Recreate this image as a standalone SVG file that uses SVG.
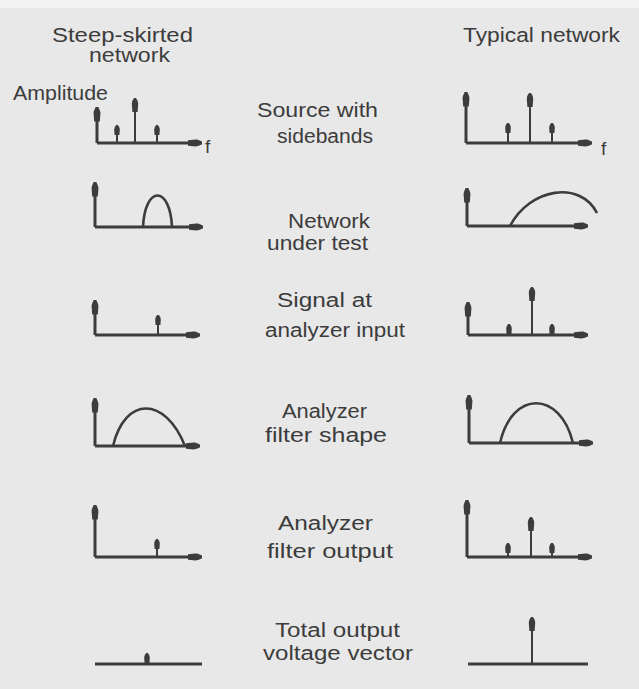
<svg xmlns="http://www.w3.org/2000/svg" width="639" height="689" viewBox="0 0 639 689">
<style>
.t{font-family:"Liberation Sans",Arial,sans-serif;font-size:20px;fill:#3c3c3c;}
.f{font-family:"Liberation Sans",Arial,sans-serif;font-size:19px;fill:#3c3c3c;}
.ax{stroke:#3c3c3c;stroke-width:3;fill:none;marker-end:url(#ah);}
.bl{stroke:#3c3c3c;stroke-width:3;fill:none;}
.sp{stroke:#3c3c3c;stroke-width:2;fill:none;marker-end:url(#sh);}
.tsp{stroke:#3c3c3c;stroke-width:2;fill:none;marker-end:url(#th);}
.cv{stroke:#3c3c3c;stroke-width:2.6;fill:none;}
</style>
<defs>
<marker id="ah" viewBox="0 -4 15 8" refX="14.5" refY="0" markerWidth="15" markerHeight="8" markerUnits="userSpaceOnUse" orient="auto">
<path d="M0,-2.8 L8,-3.4 C11,-3.4 14.5,-1.6 14.5,0 C14.5,1.6 11,3.4 8,3.4 L0,2.8 Z" fill="#3c3c3c"/>
</marker>
<marker id="th" viewBox="0 -4 15 8" refX="14" refY="0" markerWidth="15" markerHeight="8" markerUnits="userSpaceOnUse" orient="auto">
<path d="M0,-2.6 L8,-3.2 C11,-3.2 14,-1.5 14,0 C14,1.5 11,3.2 8,3.2 L0,2.6 Z" fill="#3c3c3c"/>
</marker>
<marker id="sh" viewBox="0 -4 11 8" refX="10" refY="0" markerWidth="11" markerHeight="8" markerUnits="userSpaceOnUse" orient="auto">
<path d="M0,-2.4 L5,-2.8 C8,-2.8 10,-1.3 10,0 C10,1.3 8,2.8 5,2.8 L0,2.4 Z" fill="#3c3c3c"/>
</marker>
</defs>
<rect x="0" y="0" width="639" height="689" fill="#e8e8e8"/>
<rect x="0" y="0" width="639" height="8" fill="#f3f3f3"/>

<g id="headers">
<text class="t" x="52" y="42" textLength="141" lengthAdjust="spacingAndGlyphs">Steep-skirted</text>
<text class="t" x="89" y="62" textLength="81" lengthAdjust="spacingAndGlyphs">network</text>
<text class="t" x="463" y="42" textLength="157" lengthAdjust="spacingAndGlyphs">Typical network</text>
<text class="t" x="13" y="100" textLength="95" lengthAdjust="spacingAndGlyphs">Amplitude</text>
</g>

<g id="labels">
<text class="t" x="257" y="117" textLength="121" lengthAdjust="spacingAndGlyphs">Source with</text>
<text class="t" x="277" y="143" textLength="96" lengthAdjust="spacingAndGlyphs">sidebands</text>
<text class="t" x="288" y="228" textLength="82" lengthAdjust="spacingAndGlyphs">Network</text>
<text class="t" x="267" y="250" textLength="101" lengthAdjust="spacingAndGlyphs">under test</text>
<text class="t" x="277" y="307" textLength="95" lengthAdjust="spacingAndGlyphs">Signal at</text>
<text class="t" x="265" y="337" textLength="140" lengthAdjust="spacingAndGlyphs">analyzer input</text>
<text class="t" x="282" y="418" textLength="85" lengthAdjust="spacingAndGlyphs">Analyzer</text>
<text class="t" x="265" y="442" textLength="122" lengthAdjust="spacingAndGlyphs">filter shape</text>
<text class="t" x="278" y="530" textLength="95" lengthAdjust="spacingAndGlyphs">Analyzer</text>
<text class="t" x="267" y="558" textLength="126" lengthAdjust="spacingAndGlyphs">filter output</text>
<text class="t" x="275" y="637" textLength="125" lengthAdjust="spacingAndGlyphs">Total output</text>
<text class="t" x="263" y="660" textLength="150" lengthAdjust="spacingAndGlyphs">voltage vector</text>
</g>

<g id="left-source">
<path class="ax" d="M97,143 L97,107"/>
<path class="ax" d="M97,143 L202,143"/>
<path class="tsp" d="M135,143 L135,98"/>
<path class="sp" d="M117,143 L117,125"/>
<path class="sp" d="M157,143 L157,125"/>
<text class="f" x="205" y="153">f</text>
</g>

<g id="right-source">
<path class="ax" d="M466,143 L466,92"/>
<path class="ax" d="M466,143 L592,143"/>
<path class="tsp" d="M530,143 L530,93"/>
<path class="sp" d="M508,143 L508,123"/>
<path class="sp" d="M552,143 L552,123"/>
<text class="f" x="601" y="155">f</text>
</g>

<g id="left-network">
<path class="ax" d="M95,227 L95,182"/>
<path class="ax" d="M95,227 L203,227"/>
<path class="cv" d="M143,227 C145,185 170,185 172,227"/>
</g>

<g id="right-network">
<path class="ax" d="M467,226 L467,188"/>
<path class="ax" d="M467,226 L588,226"/>
<path class="cv" d="M510,226 C530,188 580,180 597,213"/>
</g>

<g id="left-input">
<path class="ax" d="M95,335 L95,300"/>
<path class="ax" d="M95,335 L200,335"/>
<path class="sp" d="M158,335 L158,315"/>
</g>

<g id="right-input">
<path class="ax" d="M468,335 L468,302"/>
<path class="ax" d="M468,335 L588,335"/>
<path class="tsp" d="M532,335 L532,287"/>
<path class="sp" d="M509,335 L509,324"/>
<path class="sp" d="M552,335 L552,324"/>
</g>

<g id="left-filter">
<path class="ax" d="M95,446 L95,398"/>
<path class="ax" d="M95,446 L200,446"/>
<path class="cv" d="M113,446 C125,396 165,396 185,446"/>
</g>

<g id="right-filter">
<path class="ax" d="M469,443 L469,395"/>
<path class="ax" d="M469,443 L593,443"/>
<path class="cv" d="M500,443 C512,390 560,390 573,443"/>
</g>

<g id="left-output">
<path class="ax" d="M95,557 L95,505"/>
<path class="ax" d="M95,557 L202,557"/>
<path class="sp" d="M157,557 L157,539"/>
</g>

<g id="right-output">
<path class="ax" d="M467,557 L467,500"/>
<path class="ax" d="M467,557 L592,557"/>
<path class="tsp" d="M531,557 L531,517"/>
<path class="sp" d="M508,557 L508,543"/>
<path class="sp" d="M552,557 L552,543"/>
</g>

<g id="left-total">
<path class="bl" d="M95,664 L202,664"/>
<path class="sp" d="M147,664 L147,653"/>
</g>

<g id="right-total">
<path class="bl" d="M468,664 L588,664"/>
<path class="tsp" d="M532,664 L532,617"/>
</g>
</svg>
